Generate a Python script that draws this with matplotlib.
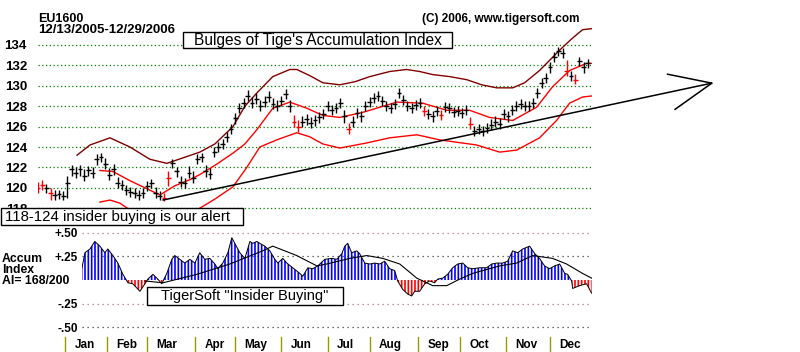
import numpy as np
import matplotlib
matplotlib.use('Agg')
import matplotlib.pyplot as plt
from matplotlib import patches

plt.rcParams['font.family'] = ['Liberation Sans', 'DejaVu Sans']

# trading-day index, 0 = 12/13/2005, 264 = 12/29/2006
month_days = [13, 33, 52, 75, 94, 116, 138, 158, 181, 201, 223, 244]
month_labels = ['Jan', 'Feb', 'Mar', 'Apr', 'May', 'Jun', 'Jul', 'Aug',
                'Sep', 'Oct', 'Nov', 'Dec']

# price bars, one every second trading day
closes = [120.0, 120.3, 120.0, 119.5, 119.3, 119.4, 119.2, 120.5, 121.8, 121.5,
          121.8, 121.2, 121.7, 121.5, 122.8, 123.0, 122.3, 121.3, 121.8, 120.5,
          120.3, 119.8, 119.6, 119.5, 119.3, 119.5, 120.2, 120.5, 119.5, 119.2,
          119.0, 121.0, 122.4, 121.6, 120.6, 120.5, 121.5, 121.0, 122.8, 123.0,
          121.6, 121.4, 123.5, 124.0, 124.3, 125.0, 125.8, 126.8, 127.8, 128.3,
          129.0, 128.3, 128.7, 128.0, 128.4, 128.9, 128.2, 128.0, 128.5, 129.2,
          128.0, 126.5, 126.0, 126.5, 126.7, 126.4, 126.6, 126.9, 127.2, 128.0,
          127.6, 127.8, 128.3, 127.0, 125.8, 126.5, 127.3, 127.0, 128.0, 128.4,
          128.8, 129.0, 128.5, 128.0, 127.8, 128.2, 129.3, 128.6, 128.0, 127.8,
          128.1, 128.3, 127.5, 127.2, 127.0, 127.5, 127.1, 127.9, 127.8, 127.4,
          127.5, 127.3, 127.6, 126.3, 125.6, 125.8, 125.6, 125.9, 126.2, 126.5,
          126.3, 127.2, 127.0, 127.6, 128.0, 128.2, 128.0, 128.0, 128.3, 129.3,
          130.3, 130.8, 131.8, 132.8, 133.4, 133.2, 131.5, 131.0, 130.6, 132.4,
          131.8, 132.2]
highs = [120.6, 120.8, 120.4, 120.0, 119.8, 119.8, 119.7, 121.2, 122.2, 122.0,
         122.2, 121.8, 122.1, 122.0, 123.3, 123.4, 122.9, 121.9, 122.3, 121.1,
         120.8, 120.3, 120.1, 120.0, 119.8, 120.0, 120.7, 120.9, 120.1, 119.7,
         119.5, 121.6, 122.8, 122.0, 121.2, 121.0, 122.1, 121.6, 123.3, 123.4,
         122.2, 121.9, 124.0, 124.5, 124.8, 125.5, 126.3, 127.3, 128.3, 128.8,
         129.6, 128.9, 129.3, 128.6, 129.0, 129.5, 128.8, 128.6, 129.0, 129.7,
         128.6, 127.1, 126.6, 127.0, 127.2, 126.9, 127.1, 127.4, 127.7, 128.5,
         128.1, 128.3, 128.8, 127.6, 126.4, 127.0, 127.8, 127.5, 128.5, 128.9,
         129.3, 129.5, 129.0, 128.5, 128.3, 128.7, 129.8, 129.1, 128.5, 128.3,
         128.6, 128.8, 128.0, 127.7, 127.5, 128.0, 127.6, 128.4, 128.3, 127.9,
         128.0, 127.8, 128.1, 126.9, 126.1, 126.3, 126.1, 126.4, 126.7, 127.0,
         126.8, 127.7, 127.5, 128.1, 128.5, 128.7, 128.5, 128.5, 128.8, 129.8,
         130.8, 131.3, 132.3, 133.3, 133.8, 133.7, 132.5, 131.5, 131.2, 132.8,
         132.3, 132.6]
lows = [119.5, 119.8, 119.5, 118.8, 118.8, 118.9, 118.8, 119.0, 121.2, 121.0,
        121.2, 120.7, 121.2, 121.0, 122.2, 122.5, 121.8, 120.8, 121.3, 120.0,
        119.8, 119.3, 119.1, 119.0, 118.8, 119.0, 119.7, 120.0, 119.0, 118.8,
        118.7, 120.2, 121.9, 121.1, 120.1, 120.0, 121.0, 120.5, 122.3, 122.5,
        121.1, 120.9, 123.0, 123.5, 123.8, 124.5, 125.3, 126.3, 127.3, 127.8,
        128.5, 127.8, 128.2, 127.5, 127.9, 128.4, 127.7, 127.5, 128.0, 128.7,
        127.4, 126.0, 125.5, 126.0, 126.2, 125.9, 126.1, 126.4, 126.7, 127.5,
        127.1, 127.3, 127.8, 126.4, 125.3, 126.0, 126.8, 126.5, 127.5, 127.9,
        128.3, 128.5, 128.0, 127.5, 127.3, 127.7, 128.8, 128.1, 127.5, 127.3,
        127.6, 127.8, 127.0, 126.7, 126.5, 127.0, 126.6, 127.4, 127.3, 126.9,
        127.0, 126.8, 127.1, 125.8, 125.1, 125.3, 125.1, 125.4, 125.7, 126.0,
        125.8, 126.7, 126.5, 127.1, 127.5, 127.7, 127.5, 127.5, 127.8, 128.8,
        129.8, 130.3, 131.3, 132.3, 132.9, 132.7, 131.0, 130.5, 130.2, 131.9,
        131.3, 131.7]
red_bars = [0, 1, 3, 30, 31, 61, 62, 74, 92, 96, 103, 126, 128]

# bands
upper_days = [18.6, 24.8, 34.3, 43.8, 53.3, 61.4, 70, 77.1, 84.3, 92.9, 98.6, 104.3,
              111.9, 120, 123.3, 129.5, 135.7, 143.8, 151, 158.1, 167.6, 175.7,
              181.9, 188.1, 196.2, 204.3, 211.4, 218.6, 226.2, 231.9, 239, 243.8,
              248.6, 254.3, 259.5, 263.8]
upper_vals = [123.2, 124.2, 124.9, 124.0, 122.8, 122.4, 123.0, 123.5, 124.3, 126.0,
              128.0, 129.3, 130.9, 131.6, 131.6, 131.0, 130.3, 130.1, 130.4, 130.9,
              131.4, 131.6, 131.4, 131.1, 130.9, 130.6, 130.1, 129.8, 129.8, 130.3,
              131.5, 132.5, 133.5, 134.6, 135.5, 135.6]
mid_days = [29.5, 35.7, 43.8, 51, 58.1, 65.2, 72.4, 77.1, 84.3, 92.9, 98.6, 104.3,
            111.9, 120, 128.1, 135.7, 143.8, 154.8, 162.9, 171, 183.3, 194.8, 205.7,
            215.2, 226.2, 237.6, 245.2, 253.3, 261.4, 263.8]
mid_vals = [121.7, 121.6, 120.7, 120.0, 119.3, 120.2, 120.8, 121.3, 122.2, 123.4,
            124.3, 125.7, 127.8, 128.4, 127.8, 127.1, 126.9, 127.4, 127.9, 128.4,
            128.3, 127.6, 127.6, 126.9, 126.6, 127.9, 129.9, 131.5, 132.2, 132.2]
low_days = [29.5, 34.3, 39, 46.2, 58.1, 70, 77.1, 84.3, 92.9, 99.5, 105.7, 113.8,
            123.3, 129.5, 135.7, 143.8, 156.7, 167.6, 180.5, 191.4, 209, 220, 228.1,
            239, 247.1, 253.3, 259.5, 263.8]
low_vals = [118.6, 118.8, 118.5, 117.5, 116.8, 117.3, 118.0, 118.9, 120.1, 122.0,
            124.0, 124.7, 125.4, 125.0, 124.3, 123.9, 124.4, 124.9, 125.2, 124.7,
            124.2, 123.5, 123.7, 124.9, 126.6, 128.3, 128.9, 129.0]

# trend line (start, end)
trend_days = [59.5, 322]
trend_vals = [118.8, 130.3]

# accumulation index
ai_days = [21, 22.4, 24.8, 27.1, 29.5, 31.9, 33.3, 35.7, 38.1, 40.5, 42.9, 45.2,
           48.6, 51, 52.4, 54.8, 57.1, 59, 61.4, 63.8, 65.2, 67.6, 70, 72.4, 74.8,
           77.1, 79.5, 81.9, 84.3, 85.7, 88.1, 90.5, 92.4, 93.8, 96.2, 98.6, 101,
           102.4, 104.3, 105.7, 108.1, 110.5, 112.9, 114.3, 116.7, 118.6, 121.4,
           124.8, 126.2, 128.6, 131, 133.3, 134.3, 136.7, 140, 142.4, 144.8, 146.2,
           147.6, 149.5, 151.9, 153.3, 155.7, 158.1, 160.5, 162.9, 165.2, 167.6,
           170, 171.4, 173.8, 176.2, 178.1, 179.5, 181.9, 184.3, 186.7, 189, 190.5,
           192.9, 195.2, 197.6, 200, 202.4, 204.8, 207.1, 210.5, 213.8, 216.2,
           218.6, 221.4, 223.8, 226.2, 228.6, 231, 234.3, 236.7, 239, 241.4, 243.8,
           246.2, 248.6, 251, 252.4, 254.3, 254.8, 258.1, 261.4, 263.8]
ai_vals = [0.13, 0.29, 0.33, 0.41, 0.36, 0.29, 0.33, 0.26, 0.18, 0.06, -0.03, -0.04,
           -0.12, -0.04, 0.01, 0.06, 0.01, -0.04, 0.07, 0.22, 0.26, 0.22, 0.18, 0.22,
           0.18, 0.29, 0.22, 0.23, 0.17, 0.12, 0.18, 0.29, 0.45, 0.39, 0.29, 0.23,
           0.41, 0.39, 0.41, 0.39, 0.36, 0.31, 0.22, 0.18, 0.23, 0.18, 0.13, 0.07,
           0.04, 0.13, 0.12, 0.15, 0.17, 0.22, 0.23, 0.22, 0.28, 0.36, 0.39, 0.29,
           0.31, 0.28, 0.18, 0.17, 0.18, 0.17, 0.20, 0.12, 0.10, -0.01, -0.10, -0.15,
           -0.17, -0.12, -0.12, -0.04, -0.01, -0.03, 0.01, 0.02, 0.06, 0.13, 0.17,
           0.18, 0.13, 0.12, 0.13, 0.13, 0.17, 0.18, 0.18, 0.20, 0.31, 0.29, 0.33,
           0.36, 0.28, 0.23, 0.15, 0.12, 0.15, 0.17, 0.07, 0.06, -0.01, -0.09, -0.06,
           -0.04, -0.14]
ma_days = [51, 59.5, 75.7, 91.4, 107.1, 111.9, 123.3, 132.9, 137.6, 148.6, 156.7,
           164.3, 172.4, 180.5, 188.1, 194.8, 201, 207.1, 220, 228.1, 235.7, 245.2,
           251.9, 259.5, 263.8]
ma_vals = [-0.01, -0.03, 0.06, 0.17, 0.31, 0.36, 0.26, 0.15, 0.17, 0.23, 0.26,
           0.23, 0.17, 0.02, -0.06, -0.06, 0.01, 0.07, 0.15, 0.18, 0.26, 0.23, 0.17,
           0.07, 0.02]

W, H = 800, 352
fig = plt.figure(figsize=(8, 3.52), dpi=100)
fig.patch.set_facecolor('white')


def fx(px):
    return px / W


def fy(py):
    return 1 - py / H


# ---- price panel ----
ax = fig.add_axes([fx(38), fy(212), fx(592 - 38), (212 - 25) / H])
ax.set_xlim(0, 264)
ax.set_ylim(117.63, 135.96)
for s in ax.spines.values():
    s.set_visible(False)
ax.set_xticks([])
ax.set_yticks(range(118, 135, 2))
ax.tick_params(axis='y', length=0, pad=8, labelsize=9.5)
for lab in ax.get_yticklabels():
    lab.set_fontweight('bold')
for v in range(118, 135, 2):
    ax.axhline(v, color='#008000', lw=0.9, ls=(0, (1, 2)), zorder=1)

ax.plot(upper_days, upper_vals, color='#800000', lw=1.0, zorder=2)
ax.plot(mid_days, mid_vals, color='#ff0000', lw=1.0, zorder=2)
ax.plot(low_days, low_vals, color='#ff0000', lw=1.0, zorder=2)

bar_x = np.arange(len(closes)) * 2
colors = ['#ff0000' if i in red_bars else 'black' for i in range(len(closes))]
ax.vlines(bar_x, lows, highs, colors=colors, lw=1.0, zorder=3)
ax.scatter(bar_x, closes, marker='_', s=12, c=colors, linewidths=1.0, zorder=3)

ax.annotate('', xy=(trend_days[1], trend_vals[1]), xytext=(trend_days[0], trend_vals[0]),
            xycoords='data', annotation_clip=False,
            arrowprops=dict(arrowstyle='->,head_length=3.0,head_width=1.3',
                            color='black', lw=1.1, shrinkA=0, shrinkB=0))

# ---- accumulation panel ----
ax2 = fig.add_axes([fx(82), fy(335), fx(592 - 82), (335 - 228) / H])
ax2.set_xlim(21, 264)
ax2.set_ylim(-0.585, 0.553)
for s in ax2.spines.values():
    s.set_visible(False)
ax2.set_xticks([])
ax2.set_yticks([0.5, 0.25, -0.25, -0.5])
ax2.set_yticklabels(['+.50', '+.25', '-.25', '-.50'])
ax2.tick_params(axis='y', length=0, pad=3, labelsize=8.5)
for lab in ax2.get_yticklabels():
    lab.set_fontweight('bold')
grid_cols = {0.5: '#b07090', 0.25: '#404040', -0.25: '#b07090', -0.5: '#404040'}
for v, c in grid_cols.items():
    ax2.axhline(v, color=c, lw=0.9, ls=(0, (1, 3)), zorder=1)

ai_x = np.array(ai_days)
ai_y = np.array(ai_vals)
plt.rcParams['hatch.linewidth'] = 1.2
plt.rcParams['hatch.color'] = '#0000ff'
ax2.fill_between(ai_x, 0, ai_y, where=ai_y >= 0, interpolate=True,
                 facecolor='none', edgecolor='#0000ff', hatch='|||||', lw=0, zorder=2)
plt.rcParams['hatch.color'] = '#ff0000'
ax2.fill_between(ai_x, 0, ai_y, where=ai_y <= 0, interpolate=True,
                 facecolor='none', edgecolor='#ff0000', hatch='|||||', lw=0, zorder=2)
ax2.plot(ai_x, ai_y, color='black', lw=0.7, zorder=3)
ax2.plot(ma_days, ma_vals, color='black', lw=0.8, zorder=3)

# month ticks below the panel
trans = ax2.get_xaxis_transform()
for d, lab in zip(month_days, month_labels):
    ax2.plot([d, d], [-0.02, -0.16], color='#999900', lw=1.0, transform=trans,
             clip_on=False)
    ax2.text(d + 4.5, -0.095, lab, transform=trans, ha='left', va='center',
             fontsize=8.5, fontweight='bold')

# ---- texts ----
fig.text(fx(38), fy(13), 'EU1600', ha='left', va='top', fontsize=9, fontweight='bold')
fig.text(fx(38), fy(24), '12/13/2005-12/29/2006', ha='left', va='top', fontsize=9.5,
         fontweight='bold')
fig.text(fx(422), fy(13), '(C) 2006, www.tigersoft.com', ha='left', va='top',
         fontsize=8.5, fontweight='bold')


def boxed(x0, y0, x1, y1, text, size, center=True):
    fig.patches.append(patches.Rectangle((fx(x0), fy(y1)), fx(x1 - x0), (y1 - y0) / H,
                                         transform=fig.transFigure, facecolor='white',
                                         edgecolor='black', lw=1.0, zorder=5))
    if center:
        fig.text(fx((x0 + x1) / 2), fy((y0 + y1) / 2), text, ha='center', va='center',
                 fontsize=size, zorder=6)
    else:
        fig.text(fx(x0 + 4), fy((y0 + y1) / 2), text, ha='left', va='center',
                 fontsize=size, zorder=6)


boxed(183, 32, 452, 48, "Bulges of Tige's Accumulation Index", 11.2)
boxed(1, 208, 243, 225, '118-124 insider buying is our alert', 10.8, center=False)
boxed(147, 287, 343, 305, 'TigerSoft "Insider Buying"', 10.5)

for py, line in zip([259, 270, 281], ['Accum', 'Index', 'AI= 168/200']):
    fig.text(fx(2), fy(py), line, ha='left', va='center', fontsize=8.8,
             fontweight='bold')

fig.savefig('out.png', dpi=100, facecolor='white')
